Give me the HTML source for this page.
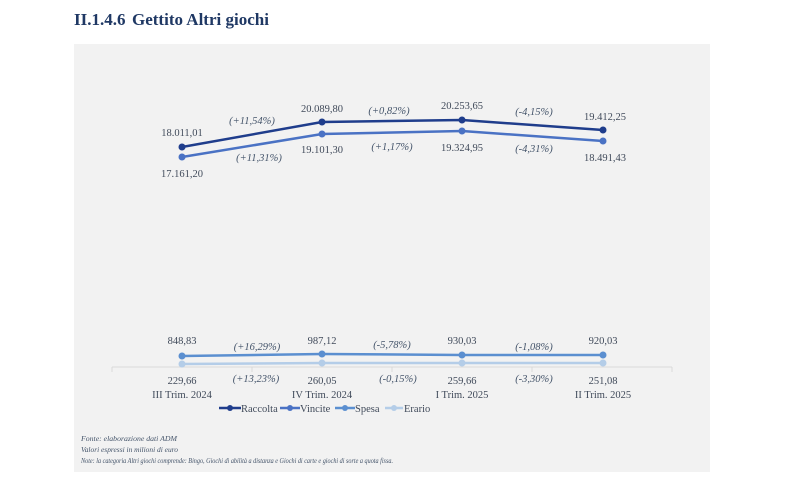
<!DOCTYPE html>
<html><head><meta charset="utf-8"><style>
body{margin:0;background:#fff;width:789px;height:488px;overflow:hidden;font-family:"Liberation Serif",serif}
</style></head><body>
<svg width="789" height="488" xmlns="http://www.w3.org/2000/svg" font-family="Liberation Serif, serif">
<text x="74" y="25" font-size="17" font-weight="bold" fill="#1f3864">II.1.4.6</text>
<text x="132" y="25" font-size="17" font-weight="bold" fill="#1f3864">Gettito Altri giochi</text>
<rect x="74" y="44" width="636" height="428" fill="#f2f2f2"/>
<line x1="112" y1="367" x2="672" y2="367" stroke="#d9d9d9" stroke-width="1"/>
<g stroke="#d9d9d9"><line x1="112" y1="367" x2="112" y2="372"/><line x1="252" y1="367" x2="252" y2="372"/><line x1="392" y1="367" x2="392" y2="372"/><line x1="532" y1="367" x2="532" y2="372"/><line x1="672" y1="367" x2="672" y2="372"/></g>
<g stroke-width="2.5" fill="none">
<polyline points="182,147 322,122 462,120 603,130" stroke="#1f3d8c"/>
<polyline points="182,157 322,134 462,131 603,141" stroke="#4a72c4"/>
<polyline points="182,356 322,354 462,355 603,355" stroke="#5b8fd0"/>
<polyline points="182,364 322,363 462,363 603,363" stroke="#b4cde8"/>
</g>
<g fill="#1f3d8c"><circle cx="182" cy="147" r="3.5"/><circle cx="322" cy="122" r="3.5"/><circle cx="462" cy="120" r="3.5"/><circle cx="603" cy="130" r="3.5"/></g>
<g fill="#4a72c4"><circle cx="182" cy="157" r="3.5"/><circle cx="322" cy="134" r="3.5"/><circle cx="462" cy="131" r="3.5"/><circle cx="603" cy="141" r="3.5"/></g>
<g fill="#5b8fd0"><circle cx="182" cy="356" r="3.5"/><circle cx="322" cy="354" r="3.5"/><circle cx="462" cy="355" r="3.5"/><circle cx="603" cy="355" r="3.5"/></g>
<g fill="#b4cde8"><circle cx="182" cy="364" r="3.5"/><circle cx="322" cy="363" r="3.5"/><circle cx="462" cy="363" r="3.5"/><circle cx="603" cy="363" r="3.5"/></g>
<g font-size="10.5" fill="#404a5a" text-anchor="middle">
<text x="182" y="136">18.011,01</text><text x="322" y="112">20.089,80</text><text x="462" y="109">20.253,65</text><text x="605" y="120">19.412,25</text>
<text x="182" y="177">17.161,20</text><text x="322" y="153">19.101,30</text><text x="462" y="151">19.324,95</text><text x="605" y="161">18.491,43</text>
<text x="182" y="344">848,83</text><text x="322" y="344">987,12</text><text x="462" y="344">930,03</text><text x="603" y="344">920,03</text>
<text x="182" y="384">229,66</text><text x="322" y="384">260,05</text><text x="462" y="384">259,66</text><text x="603" y="384">251,08</text>
<text x="182" y="398">III Trim. 2024</text><text x="322" y="398">IV Trim. 2024</text><text x="462" y="398">I Trim. 2025</text><text x="603" y="398">II Trim. 2025</text>
</g>
<g font-size="10.5" fill="#44546a" font-style="italic" text-anchor="middle">
<text x="252" y="124">(+11,54%)</text><text x="389" y="114">(+0,82%)</text><text x="534" y="115">(-4,15%)</text>
<text x="259" y="161">(+11,31%)</text><text x="392" y="150">(+1,17%)</text><text x="534" y="152">(-4,31%)</text>
<text x="257" y="350">(+16,29%)</text><text x="392" y="348">(-5,78%)</text><text x="534" y="350">(-1,08%)</text>
<text x="256" y="382">(+13,23%)</text><text x="398" y="382">(-0,15%)</text><text x="534" y="382">(-3,30%)</text>
</g>
<g font-size="10.5" fill="#404a5a">
<line x1="219" y1="408" x2="241" y2="408" stroke="#1f3d8c" stroke-width="2.5"/><circle cx="230" cy="408" r="3" fill="#1f3d8c"/><text x="241" y="412">Raccolta</text>
<line x1="280" y1="408" x2="300" y2="408" stroke="#4a72c4" stroke-width="2.5"/><circle cx="290" cy="408" r="3" fill="#4a72c4"/><text x="300" y="412">Vincite</text>
<line x1="335" y1="408" x2="355" y2="408" stroke="#5b8fd0" stroke-width="2.5"/><circle cx="345" cy="408" r="3" fill="#5b8fd0"/><text x="355" y="412">Spesa</text>
<line x1="385" y1="408" x2="403" y2="408" stroke="#b4cde8" stroke-width="2.5"/><circle cx="394" cy="408" r="3" fill="#b4cde8"/><text x="404" y="412">Erario</text>
</g>
<g font-size="7" fill="#44546a" font-style="italic">
<text x="81" y="441" textLength="96" lengthAdjust="spacingAndGlyphs">Fonte: elaborazione dati ADM</text>
<text x="81" y="452" textLength="97" lengthAdjust="spacingAndGlyphs">Valori espressi in milioni di euro</text>
<text x="81" y="463" textLength="312" lengthAdjust="spacingAndGlyphs">Note: la categoria Altri giochi comprende: Bingo, Giochi di abilità a distanza e Giochi di carte e giochi di sorte a quota fissa.</text>
</g>
</svg>
</body></html>
